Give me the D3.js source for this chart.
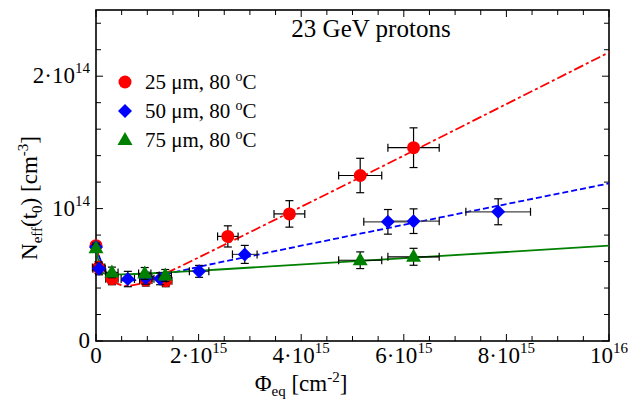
<!DOCTYPE html>
<html><head><meta charset="utf-8">
<script src="https://cdn.jsdelivr.net/npm/d3@7"></script>
<style>body{margin:0;background:#fff}svg{display:block}text{font-family:"Liberation Serif","Times New Roman",serif;fill:#000}</style>
</head><body><svg id="c" width="629" height="404"></svg>
<script>
// Units: fluence in 1e15 cm^-2, Neff in 1e14 cm^-3
const redPhi   = [0, 0.05, 0.31, 0.97, 1.36, 2.57, 3.77, 5.15, 6.19];
const redN     = [0.72, 0.555, 0.47, 0.46, 0.455, 0.79, 0.96, 1.25, 1.46];
const redPhiE  = [0, 0.12, 0.12, 0.12, 0.12, 0.2, 0.3, 0.42, 0.5];
const redNE    = [0.03, 0.045, 0.045, 0.045, 0.045, 0.08, 0.1, 0.13, 0.15];

const bluePhi  = [0, 0.06, 0.62, 0.97, 1.25, 2.01, 2.90, 5.69, 6.19, 7.84];
const blueN    = [0.71, 0.545, 0.468, 0.475, 0.47, 0.526, 0.654, 0.90, 0.905, 0.976];
const bluePhiE = [0, 0.12, 0.13, 0.12, 0.12, 0.19, 0.24, 0.47, 0.5, 0.63];
const blueNE   = [0.03, 0.045, 0.058, 0.045, 0.045, 0.045, 0.068, 0.093, 0.093, 0.098];

const greenPhi = [0, 0.31, 0.95, 1.35, 5.15, 6.19];
const greenN   = [0.70, 0.518, 0.51, 0.495, 0.61, 0.636];
const greenPhiE= [0, 0.12, 0.12, 0.12, 0.42, 0.5];
const greenNE  = [0.03, 0.04, 0.045, 0.045, 0.063, 0.064];

// fit curves
const redFitPhi   = [0, 0.1, 0.2, 0.3, 0.45, 0.6, 0.8, 1.0, 1.3, 1.6, 2.0, 10];
const redFitN     = [0.71, 0.59, 0.512, 0.463, 0.427, 0.417, 0.428, 0.452, 0.501, 0.555, 0.631, 2.18];
const blueFitPhi  = [0, 0.1, 0.2, 0.3, 0.45, 0.6, 0.8, 1.0, 1.3, 1.6, 2.0, 3.0, 10];
const blueFitN    = [0.71, 0.60, 0.52, 0.48, 0.46, 0.455, 0.46, 0.475, 0.50, 0.525, 0.56, 0.64, 1.19];
const greenFitPhi = [0, 0.05, 0.1, 0.2, 0.5, 1.0, 1.4, 2.4, 10];
const greenFitN   = [0.71, 0.60, 0.525, 0.505, 0.503, 0.51, 0.518, 0.54, 0.72];

const xTickVals = [0, 2, 4, 6, 8, 10];
const xTickLabels = [["0",""],["2·10","15"],["4·10","15"],["6·10","15"],["8·10","15"],["10","16"]];
const yTickVals = [0, 1, 2];
const yTickLabels = [["0",""],["10","14"],["2·10","14"]];
const seriesNames = ["25 μm, 80 ", "50 μm, 80 ", "75 μm, 80 "];

const svg = d3.select("#c");
const L=96, R=609, T=10, B=341;
const x = d3.scaleLinear().domain([0,10]).range([L,R]);
const y = d3.scaleLinear().domain([0,2.5]).range([B,T]);

// ticks (inward, all four sides)
const g = svg.append("g").attr("stroke","#000").attr("stroke-width",1);
const xMinor = d3.range(0, 10.001, 0.5);
const yMinor = d3.range(0, 2.5001, 0.2);
xMinor.forEach(v=>{
  const major = xTickVals.some(t=>Math.abs(t-v)<1e-6);
  const len = major?7:5;
  g.append("line").attr("x1",x(v)).attr("x2",x(v)).attr("y1",B).attr("y2",B-len);
  g.append("line").attr("x1",x(v)).attr("x2",x(v)).attr("y1",T).attr("y2",T+len);
});
yMinor.forEach(v=>{
  const major = yTickVals.some(t=>Math.abs(t-v)<1e-6);
  const len = major?7:5;
  g.append("line").attr("y1",y(v)).attr("y2",y(v)).attr("x1",L).attr("x2",L+len);
  g.append("line").attr("y1",y(v)).attr("y2",y(v)).attr("x1",R).attr("x2",R-len);
});
svg.append("rect").attr("x",L).attr("y",T).attr("width",R-L).attr("height",B-T)
  .attr("fill","none").attr("stroke","#000").attr("stroke-width",1.6);

// tick labels
xTickVals.forEach((v,i)=>{
  const t = svg.append("text").attr("x",x(v)).attr("y",363).attr("text-anchor","middle").attr("font-size",23);
  t.append("tspan").text(xTickLabels[i][0]);
  if (xTickLabels[i][1]) t.append("tspan").attr("dy",-10).attr("font-size",15).text(xTickLabels[i][1]);
});
yTickVals.forEach((v,i)=>{
  const t = svg.append("text").attr("x",90).attr("y",y(v)+7).attr("text-anchor","end").attr("font-size",23);
  t.append("tspan").text(yTickLabels[i][0]);
  if (yTickLabels[i][1]) t.append("tspan").attr("dy",-10).attr("font-size",15).text(yTickLabels[i][1]);
});

// axis titles
const xt = svg.append("text").attr("x",301).attr("y",391).attr("text-anchor","middle").attr("font-size",23);
xt.append("tspan").text("Φ");
xt.append("tspan").attr("dy",5).attr("font-size",15).text("eq");
xt.append("tspan").attr("dy",-5).text(" [cm");
xt.append("tspan").attr("dy",-9).attr("font-size",15).text("-2");
xt.append("tspan").attr("dy",9).text("]");

const yt = svg.append("text").attr("transform","translate(37,198) rotate(-90)").attr("text-anchor","middle").attr("font-size",23);
yt.append("tspan").text("N");
yt.append("tspan").attr("dy",5).attr("font-size",15).text("eff");
yt.append("tspan").attr("dy",-5).text("(t");
yt.append("tspan").attr("dy",5).attr("font-size",15).text("0");
yt.append("tspan").attr("dy",-5).text(") [cm");
yt.append("tspan").attr("dy",-9).attr("font-size",15).text("-3");
yt.append("tspan").attr("dy",9).text("]");

// title
svg.append("text").attr("x",371).attr("y",37).attr("text-anchor","middle").attr("font-size",25).text("23 GeV protons");

// fit lines
const line = d3.line().x(d=>x(d[0])).y(d=>y(d[1])).curve(d3.curveMonotoneX);
const clip = svg.append("clipPath").attr("id","pc").append("rect").attr("x",L).attr("y",T).attr("width",R-L).attr("height",B-T);
const fits = [
  {phi:redFitPhi, n:redFitN, color:"#ff0000", dash:"10,3,3,3", w:1.8},
  {phi:blueFitPhi, n:blueFitN, color:"#0000ff", dash:"6,3", w:1.8},
  {phi:greenFitPhi, n:greenFitN, color:"#008000", dash:null, w:1.8}
];
fits.forEach(f=>{
  svg.append("path").attr("clip-path","url(#pc)").attr("d", line(f.phi.map((p,i)=>[p,f.n[i]])))
    .attr("fill","none").attr("stroke",f.color).attr("stroke-width",f.w)
    .attr("stroke-dasharray",f.dash);
});

// error bars + markers
const series = [
  {phi:redPhi, n:redN, pe:redPhiE, ne:redNE, color:"#ff0000", shape:"circle", hcol:"#000"},
  {phi:bluePhi, n:blueN, pe:bluePhiE, ne:blueNE, color:"#0000ff", shape:"diamond", hcol:"#444"},
  {phi:greenPhi, n:greenN, pe:greenPhiE, ne:greenNE, color:"#008000", shape:"triangle", hcol:"#000"}
];
function marker(sel, shape, cx, cy, color){
  if (shape==="circle") sel.append("circle").attr("cx",cx).attr("cy",cy).attr("r",6.5).attr("fill",color);
  else if (shape==="diamond") sel.append("path").attr("d",`M${cx},${cy-7}L${cx+7},${cy}L${cx},${cy+7}L${cx-7},${cy}Z`).attr("fill",color);
  else sel.append("path").attr("d",`M${cx},${cy-8}L${cx+7.5},${cy+5}L${cx-7.5},${cy+5}Z`).attr("fill",color);
}
series.forEach(s=>{
  const eg = svg.append("g").attr("stroke-width",1.2);
  s.phi.forEach((p,i)=>{
    const cx=x(p), cy=y(s.n[i]);
    if (s.ne[i]>0){
      const y1=y(s.n[i]+s.ne[i]), y2=y(s.n[i]-s.ne[i]);
      eg.append("line").attr("x1",cx).attr("x2",cx).attr("y1",y1).attr("y2",y2).attr("stroke","#000");
      eg.append("line").attr("x1",cx-4).attr("x2",cx+4).attr("y1",y1).attr("y2",y1).attr("stroke","#000");
      eg.append("line").attr("x1",cx-4).attr("x2",cx+4).attr("y1",y2).attr("y2",y2).attr("stroke","#000");
    }
    if (s.pe[i]>0){
      const x1=x(p-s.pe[i]), x2=x(p+s.pe[i]);
      eg.append("line").attr("x1",x1).attr("x2",x2).attr("y1",cy).attr("y2",cy).attr("stroke",s.hcol);
      eg.append("line").attr("x1",x1).attr("x2",x1).attr("y1",cy-4).attr("y2",cy+4).attr("stroke","#000");
      eg.append("line").attr("x1",x2).attr("x2",x2).attr("y1",cy-4).attr("y2",cy+4).attr("stroke","#000");
    }
  });
  const mg = svg.append("g");
  s.phi.forEach((p,i)=>marker(mg, s.shape, x(p), y(s.n[i]), s.color));
});

// legend
series.forEach((s,i)=>{
  const ly = 82 + i*29;
  marker(svg, s.shape, 125, ly, s.color);
  const t = svg.append("text").attr("x",145).attr("y",ly+7).attr("font-size",21);
  t.append("tspan").text(seriesNames[i]);
  t.append("tspan").attr("dy",-8).attr("font-size",14).text("o");
  t.append("tspan").attr("dy",8).text("C");
});
</script></body></html>
